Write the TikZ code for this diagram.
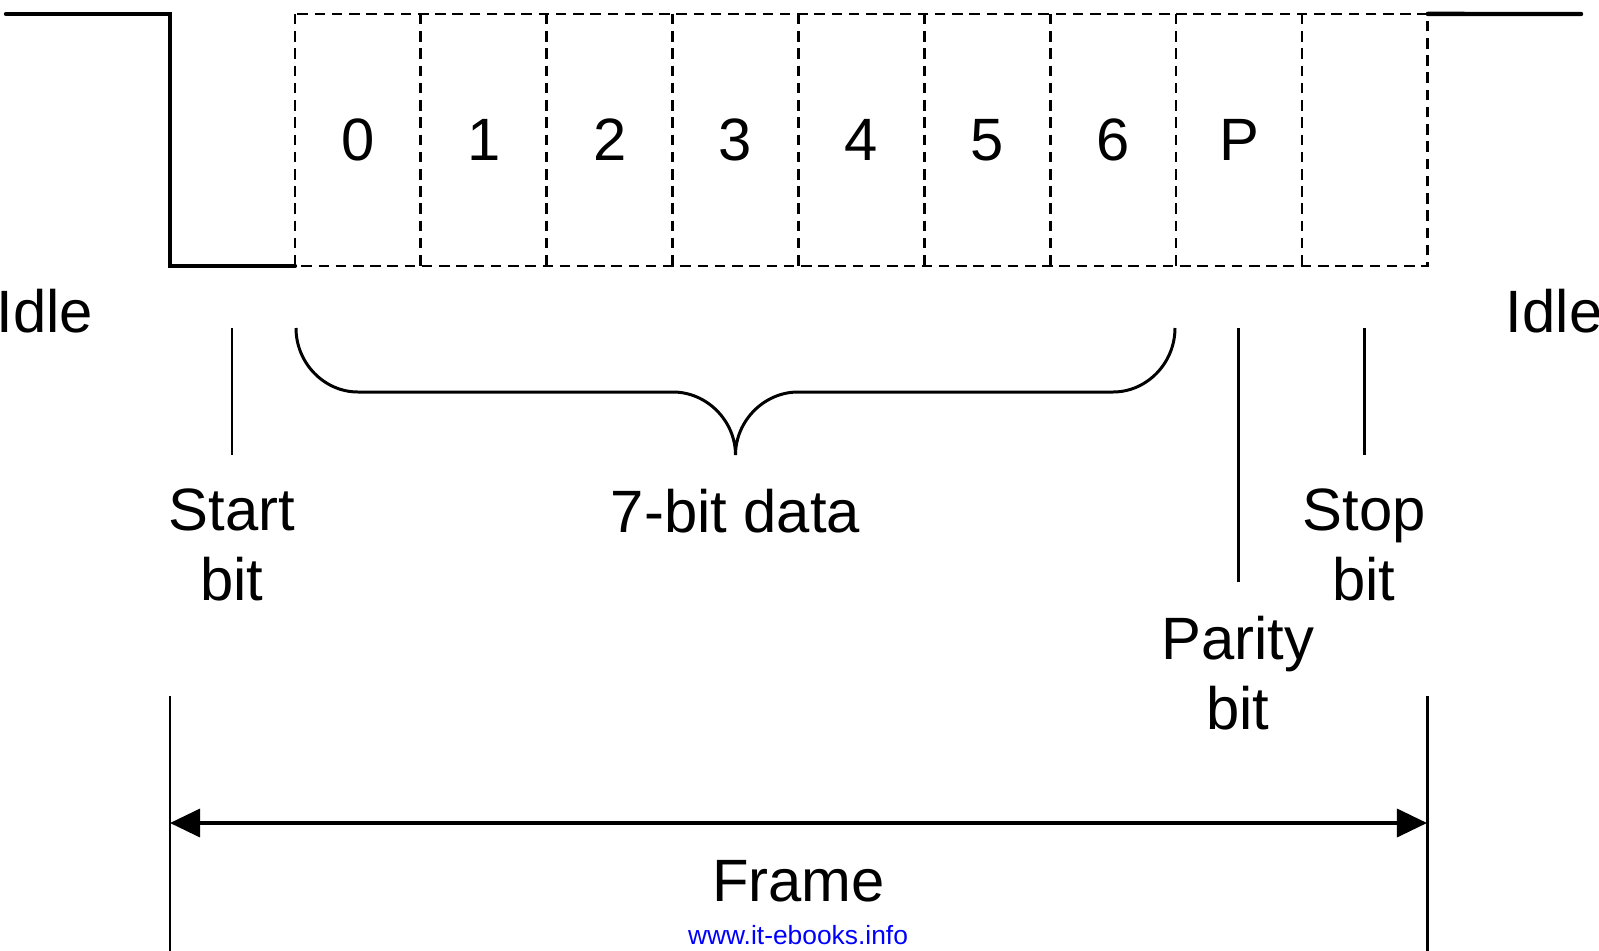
\documentclass[tikz,border=0pt]{standalone}
\usepackage{fontspec}
\setmainfont{Liberation Sans}
\usetikzlibrary{positioning,arrows.meta}
\definecolor{linkblue}{RGB}{0,0,255}

\begin{document}
\begin{tikzpicture}[x=0.01cm,y=-0.01cm,node distance=0cm,
  cell/.style={rectangle, minimum width=1.258cm, minimum height=2.52cm, inner sep=0pt, outer sep=0pt,
               font=\fontsize{17}{20}\selectfont},
  celledge/.style={dash pattern=on 3pt off 1.9pt, line width=0.8pt},
  signal/.style={line width=1.25pt, line cap=round},
  tick/.style={line width=0.85pt},
  lbl/.style={align=center, inner sep=0pt, font=\fontsize{17}{20}\selectfont}]
  \useasboundingbox (0,0) rectangle (1599,951);
  % bit cells
  \node[cell] (c0) at (357.9,140) {0};
  \node[cell,right=of c0] (c1) {1};
  \node[cell,right=of c1] (c2) {2};
  \node[cell,right=of c2] (c3) {3};
  \node[cell,right=of c3] (c4) {4};
  \node[cell,right=of c4] (c5) {5};
  \node[cell,right=of c5] (c6) {6};
  \node[cell,right=of c6] (c7) {P};
  \node[cell,right=of c7] (c8) {};
  \draw[celledge] (c0.north west) rectangle (c8.south east);
  \foreach \i in {0,...,7}
    \draw[celledge] (c\i.north east) -- (c\i.south east);
  % line level
  \coordinate (idleA) at (6,14);
  \coordinate (fall) at (170,14);
  \coordinate (idleB) at (1581,14);
  \draw[signal] (idleA) -- (fall) |- (c0.south west);
  \draw[signal] (c8.north east) -- (idleB);
  \node[lbl,anchor=west] (idlel) at (-4,311) {Idle};
  \node[lbl,anchor=east] (idler) at (1603,311) {Idle};
  % start bit
  \coordinate (startT) at (232,328);
  \coordinate (startB) at (232,455);
  \draw[tick] (startT) -- (startB);
  \node[lbl,below=0.33cm of startB] (start) {Start\\bit};
  % data brace
  \coordinate (braceL) at (296,328);
  \coordinate (braceT) at (735.5,455);
  \coordinate (braceR) at (1175,328);
  \draw[tick] (braceL) .. controls (296,363) and (324,392) .. (358,392) -- (673,392)
    .. controls (707,392) and (735.5,421) .. (braceT)
    .. controls (735.5,421) and (764,392) .. (798,392) -- (1113,392)
    .. controls (1147,392) and (1175,363) .. (braceR);
  \node[lbl,below=0.33cm of braceT] (data) {7-bit data};
  % parity bit
  \coordinate (parT) at (1238,328);
  \coordinate (parB) at (1238,582);
  \draw[tick] (parT) -- (parB);
  \node[lbl,below=0.33cm of parB] (parity) {Parity\\bit};
  % stop bit
  \coordinate (stopT) at (1364,328);
  \coordinate (stopB) at (1364,455);
  \draw[tick] (stopT) -- (stopB);
  \node[lbl,below=0.33cm of stopB] (stop) {Stop\\bit};
  % frame
  \coordinate (fl) at (170,696);
  \coordinate (flb) at (170,951);
  \coordinate (fr) at (1427,696);
  \coordinate (frb) at (1427,951);
  \draw[tick] (fl) -- (flb);
  \draw[tick] (fr) -- (frb);
  \coordinate (al) at (170,823);
  \coordinate (ar) at (1427,823);
  \coordinate (am) at (798.5,823);
  \draw[line width=1pt,{Triangle[length=0.3cm,width=0.28cm]}-{Triangle[length=0.3cm,width=0.28cm]}] (al) -- (ar);
  \node[lbl,below=0.37cm of am] (frame) {Frame};
  \node[inner sep=0pt, text=linkblue, font=\fontsize{7.5}{9}\selectfont] (web) at (798,935) {www.it-ebooks.info};
\end{tikzpicture}
\end{document}
